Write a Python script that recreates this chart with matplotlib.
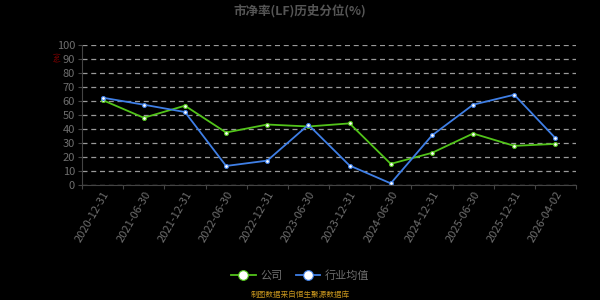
import matplotlib.pyplot as plt
import numpy as np

plt.rcParams["font.family"] = ["Noto Sans CJK SC", "DejaVu Sans"]

dates = ["2020-12-31", "2021-06-30", "2021-12-31", "2022-06-30", "2022-12-31", "2023-06-30",
         "2023-12-31", "2024-06-30", "2024-12-31", "2025-06-30", "2025-12-31", "2026-04-02"]
company = [60.8, 48.2, 56.8, 37.7, 43.4, 42.0, 44.2, 15.4, 23.2, 37.0, 28.2, 29.6]
industry = [62.5, 57.5, 52.3, 13.9, 17.7, 43.2, 14.2, 1.5, 35.6, 57.5, 64.6, 33.7]
yticks = list(range(0, 101, 10))

green = "#52c41a"
blue = "#3f7fe6"
grey = "#6e6e6e"

fig = plt.figure(figsize=(6, 3), dpi=100, facecolor="black")
ax = fig.add_axes([0.1367, 0.3817, 0.8233, 0.4683], facecolor="black")

x = np.arange(len(dates)) + 0.5
ax.plot(x, company, color=green, lw=1.3, marker="o", ms=2.8, mfc="white", mec=green, mew=0.8, label="公司")
ax.plot(x, industry, color=blue, lw=1.3, marker="o", ms=2.8, mfc="white", mec=blue, mew=0.8, label="行业均值")

ax.set_xlim(0, len(dates))
ax.set_ylim(0, 100)
ax.set_xticks(np.arange(len(dates) + 1))
ax.set_xticklabels([])
ax.set_xticks(x, minor=True)
ax.set_xticklabels(dates, minor=True, rotation=60, ha="right", va="top", rotation_mode="anchor",
                   fontsize=8, color=grey)
ax.tick_params(axis="x", which="minor", length=0, pad=3)
ax.tick_params(axis="x", which="major", length=3, color="#444444")
ax.set_yticks(yticks)
ax.set_yticklabels([str(v) for v in yticks], fontsize=8, color=grey)
ax.tick_params(axis="y", length=3, color="#444444", pad=2)
ax.grid(axis="y", color="#9a9a9a", ls=(0, (4, 3)), lw=0.9)
ax.set_axisbelow(True)
for s in ["top", "right"]:
    ax.spines[s].set_visible(False)
ax.spines["left"].set_color("#444444")
ax.spines["bottom"].set_color("#444444")

fig.text(0.5, 0.965, "市净率(LF)历史分位(%)", ha="center", va="center", fontsize=9,
         color="#555555", fontweight="bold")
fig.text(0.097, 0.81, "(%)", ha="center", va="center", fontsize=5, color="#b00000", rotation=90)

leg = fig.legend(loc="center", bbox_to_anchor=(0.5, 0.08), ncol=2, frameon=False, fontsize=8,
                 handlelength=2.2, columnspacing=1.2, handletextpad=0.4, markerscale=2.5)
for t in leg.get_texts():
    t.set_color(grey)

fig.text(0.5, 0.017, "制图数据来自恒生聚源数据库", ha="center", va="center", fontsize=5.5, color="#c8961e")

fig.savefig("out.png", dpi=100, facecolor="black")
